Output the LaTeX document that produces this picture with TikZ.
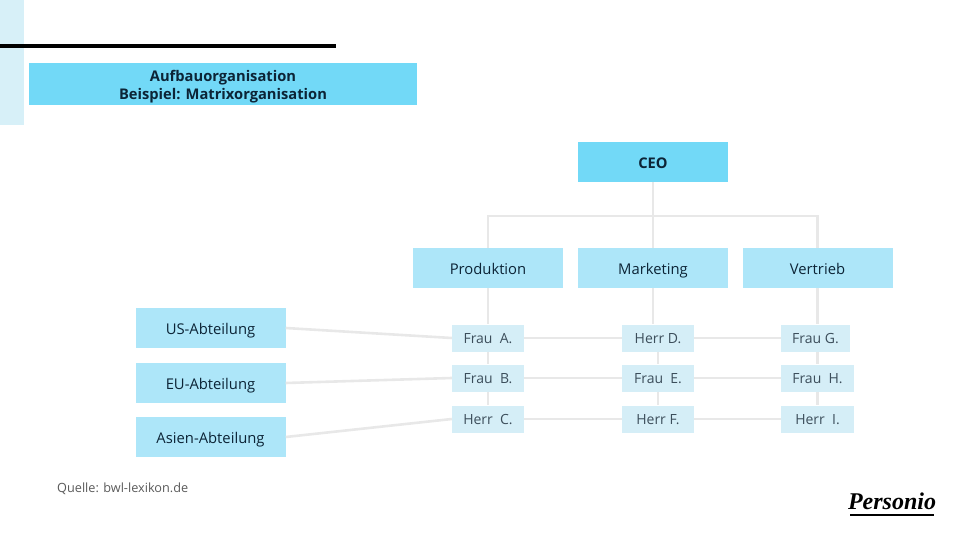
\documentclass[tikz,border=0pt]{standalone}
\usepackage{fontspec}
\setmainfont{Open Sans}
\newfontfamily\logofont{Liberation Serif}
\usetikzlibrary{positioning,calc}
\definecolor{OrgHead}{HTML}{72D9F7}
\definecolor{OrgBox}{HTML}{ADE6F9}
\definecolor{OrgPerson}{HTML}{D5EEF7}
\definecolor{OrgStrip}{HTML}{D7F0F8}
\definecolor{OrgLine}{HTML}{E8E8E8}
\definecolor{OrgInk}{HTML}{0C2436}
\definecolor{OrgSoft}{HTML}{3C4E5B}
\definecolor{OrgMuted}{HTML}{5A5A5A}
\tikzset{
  link/.style={OrgLine,line width=2.6pt},
  headbox/.style={fill=OrgHead,text=OrgInk,inner sep=0pt,align=center,
                  font=\fontsize{14.7}{18}\selectfont\bfseries},
  unit/.style={fill=OrgBox,text=OrgInk,inner sep=0pt,minimum width=150pt,minimum height=40pt,
               text height=15pt,text depth=3pt,font=\fontsize{14.8}{17}\selectfont},
  person/.style={fill=OrgPerson,text=OrgSoft,inner sep=0pt,minimum width=72pt,minimum height=27pt,
                 text height=13pt,text depth=3pt,font=\fontsize{14}{17}\selectfont},
}
\begin{document}
\begin{tikzpicture}[x=1pt,y=-1pt]
    \useasboundingbox (0,0) rectangle (960,540);
    \fill[OrgStrip] (0,0) rectangle (24,125);
    \fill[black] (0,44) rectangle (336,48);

    \node[headbox,minimum width=388pt,minimum height=42pt] (title) at (223,84)
      {\rule{0pt}{17pt}Aufbauorganisation\\Beispiel: Matrixorganisation};
    \node[headbox,minimum width=150pt,minimum height=40pt,text height=15pt,text depth=3pt] (ceo) at (653,162) {CEO};

    \node[unit] (prod) at (488,268) {Produktion};
    \node[unit] (mark) at (653,268) {Marketing};
    \node[unit] (vert) at (817.5,268) {Vertrieb};

    \node[unit] (us) at (210.5,328) {US-Abteilung};
    \node[unit] (eu) at (210.5,383) {EU-Abteilung};
    \node[unit] (asia) at (210.5,437) {Asien-Abteilung};

    \node[person] (fraua) at (488,338) {Frau~~A.};
    \node[person] (fraub) at (488,378) {Frau~~B.};
    \node[person] (herrc) at (488,419) {Herr~~C.};
    \node[person] (herrd) at (658,338) {Herr D.};
    \node[person] (fraue) at (658,378) {Frau~~E.};
    \node[person] (herrf) at (658,419) {Herr F.};
    \node[person,minimum width=69pt] (fraug) at (815.5,338) {Frau G.};
    \node[person,minimum width=73pt] (frauh) at (817.5,378) {Frau~~H.};
    \node[person,minimum width=73pt] (herri) at (817.5,419) {Herr~~I.};

    \draw[link] (ceo)--(mark);
    \draw[link] (prod.north)--++(0,-32)-|(vert.north);
    \draw[link] (prod)--(fraua);
    \draw[link] (mark.south)--(mark.south|-herrd.north);
    \draw[link] (vert)--(vert|-fraug.north);
    \draw[link] (fraua)--(fraub);
    \draw[link] (fraub)--(herrc);
    \draw[link] (herrd)--(fraue);
    \draw[link] (fraue)--(herrf);
    \draw[link] (fraug.south-|frauh)--(frauh);
    \draw[link] (frauh)--(herri);

    \draw[link] (us.east)--(fraua.west);
    \draw[link] (eu.east)--(fraub.west);
    \draw[link] (asia.east)--(herrc.west);
    \draw[link] (fraua)--(herrd);
    \draw[link] (herrd)--(fraug);
    \draw[link] (fraub)--(fraue);
    \draw[link] (fraue)--(frauh);
    \draw[link] (herrc)--(herrf);
    \draw[link] (herrf)--(herri);

    \node[text=OrgMuted,anchor=west,inner sep=0pt,text height=13pt,text depth=3pt,font=\fontsize{12.7}{15}\selectfont] (source) at (57,487)
      {Quelle: bwl-lexikon.de};
    \node[text=black,inner sep=0pt,font=\logofont\fontsize{24}{28}\selectfont\bfseries\itshape] (logo) at (892,501)
      {Personio};
    \fill[black] (850,513.5) rectangle (934,515.5);
  \end{tikzpicture}
\end{document}
